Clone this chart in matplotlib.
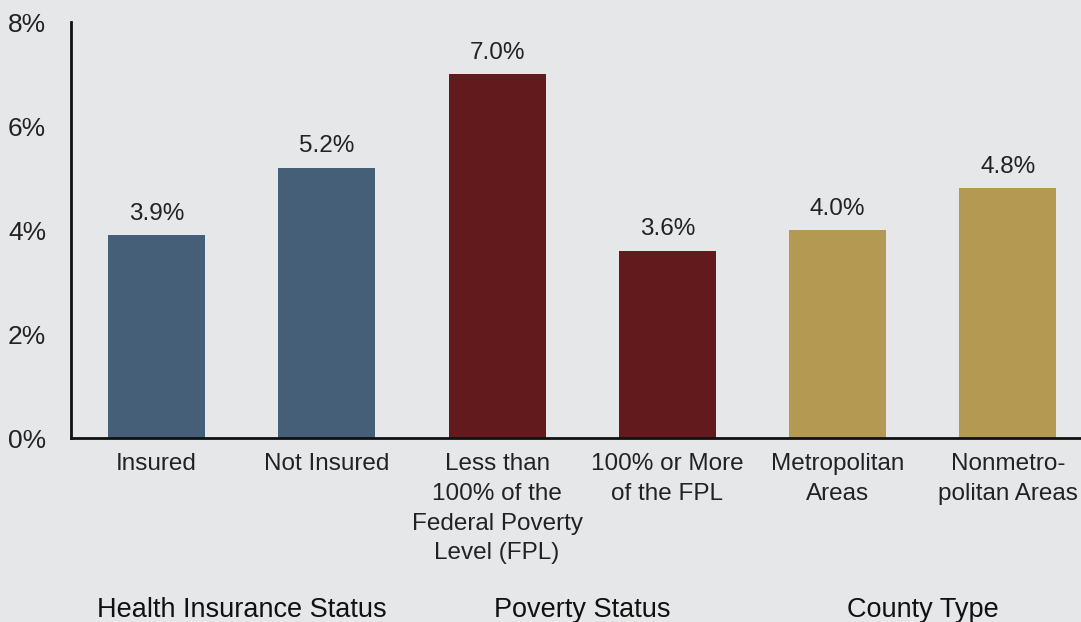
import matplotlib
matplotlib.use("Agg")
import matplotlib.pyplot as plt

categories = ["Insured", "Not Insured",
              "Less than\n100% of the\nFederal Poverty\nLevel (FPL)",
              "100% or More\nof the FPL", "Metropolitan\nAreas",
              "Nonmetro-\npolitan Areas"]
values = [3.9, 5.2, 7.0, 3.6, 4.0, 4.8]
groups = ["Health Insurance Status", "Poverty Status", "County Type"]
group_colors = ["#465f78", "#631a1d", "#b39952"]

plt.rcParams["font.family"] = ["Liberation Sans", "DejaVu Sans"]
bg = "#e6e7e9"

fig = plt.figure(figsize=(10.81, 6.22), dpi=100, facecolor=bg)
ax = fig.add_axes([0.0657, 0.2958, 0.9343, 0.6688], facecolor=bg)

x = list(range(len(categories)))
colors = [group_colors[i // 2] for i in x]
bars = ax.bar(x, values, width=0.57, color=colors)

for xi, v in zip(x, values):
    ax.text(xi, v + 0.2, f"{v:.1f}%", ha="center", va="bottom",
            fontsize=17.5, color="#222222")

ax.set_xlim(-0.503, 5.43)
ax.set_ylim(0, 8)
ax.set_yticks([0, 2, 4, 6, 8])
ax.set_yticklabels([f"{t}%" for t in [0, 2, 4, 6, 8]], fontsize=19, color="#222222")
ax.set_xticks(x)
ax.set_xticklabels(categories, fontsize=17.5, color="#222222", linespacing=1.45, va="top")
ax.tick_params(length=0)
ax.tick_params(axis="y", pad=18)
ax.tick_params(axis="x", pad=11)
for s in ["top", "right"]:
    ax.spines[s].set_visible(False)
for s in ["left", "bottom"]:
    ax.spines[s].set_linewidth(2)
    ax.spines[s].set_color("#111111")

for gi, g in enumerate(groups):
    ax.text(gi * 2 + 0.5, -3.3, g, ha="center", va="center",
            fontsize=19.5, color="#111111")

fig.savefig("out.png", dpi=100, facecolor=bg)
